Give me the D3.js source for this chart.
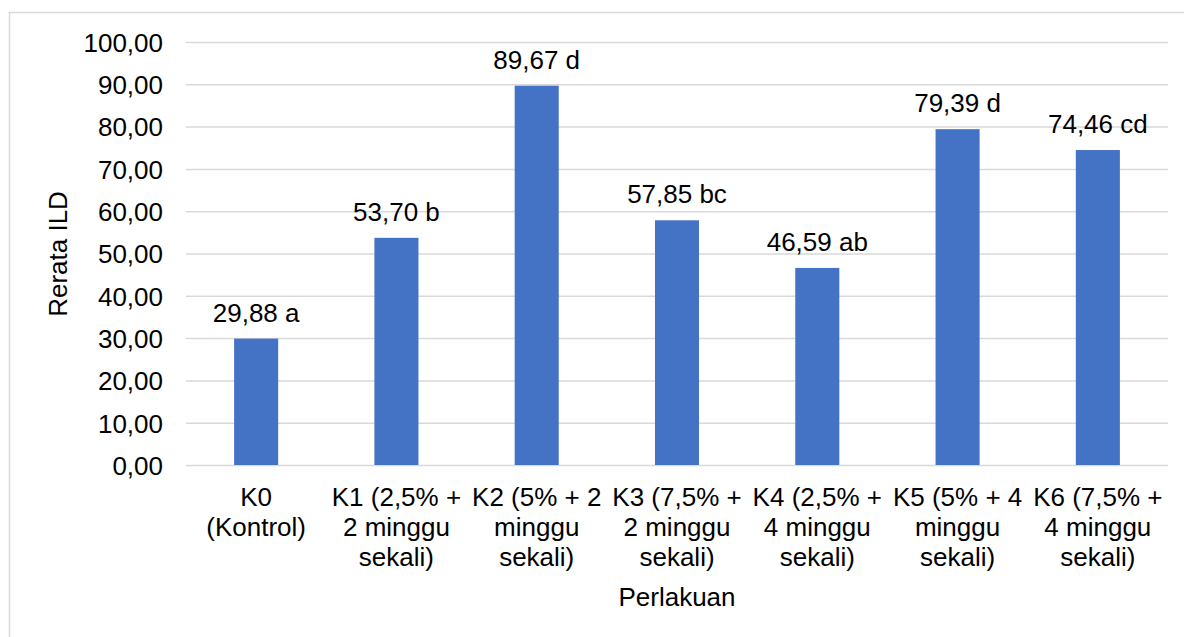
<!DOCTYPE html>
<html><head><meta charset="utf-8">
<script src="https://cdn.jsdelivr.net/npm/d3@7"></script>
<style>
html,body{margin:0;padding:0;background:#fff;}
svg{display:block;font-family:"Liberation Sans",Arial,sans-serif;}
</style></head>
<body>
<svg id="chart" width="1184" height="637"></svg>
<script>
const categories = ["K0 (Kontrol)","K1 (2,5% + 2 minggu sekali)","K2 (5% + 2 minggu sekali)","K3 (7,5% + 2 minggu sekali)","K4 (2,5% + 4 minggu sekali)","K5 (5% + 4 minggu sekali)","K6 (7,5% + 4 minggu sekali)"];
const values = [29.88, 53.70, 89.67, 57.85, 46.59, 79.39, 74.46];
const letters = ["a","b","d","bc","ab","d","cd"];
const yTicks = [0,10,20,30,40,50,60,70,80,90,100];
const xTitle = "Perlakuan";
const yTitle = "Rerata ILD";

(function(){
const svg = d3.select("#chart");
const FS = 26;
const pL = 186, pR = 1168, pT = 42, pB = 465;
const fmt = v => v.toFixed(2).replace(".", ",");

// frame
svg.append("rect").attr("x",9.5).attr("y",12.5).attr("width",1200).attr("height",700)
  .attr("fill","none").attr("stroke","#d9d9d9").attr("stroke-width",1.5);

const x = d3.scaleBand().domain(categories).range([pL,pR]).paddingInner(0.686).paddingOuter(0.343);
const y = d3.scaleLinear().domain([0,100]).range([pB,pT]);

// grid
const yAxis = d3.axisLeft(y).tickValues(yTicks).tickSize(-(pR-pL)).tickFormat(fmt).tickPadding(23);
const gy = svg.append("g").attr("transform",`translate(${pL},0)`).call(yAxis);
gy.select(".domain").remove();
gy.selectAll(".tick line").attr("stroke","#d9d9d9").attr("stroke-width",1.5);
gy.selectAll(".tick text").attr("font-size",FS).attr("fill","#000").attr("font-family","Liberation Sans, Arial, sans-serif").attr("dy","0.36em");

// bars
svg.append("g").selectAll("rect").data(values).join("rect")
  .attr("x",(d,i)=>x(categories[i])).attr("width",x.bandwidth())
  .attr("y",d=>y(d)).attr("height",d=>y(0)-y(d)).attr("fill","#4472C4");

// data labels
svg.append("g").selectAll("text").data(values).join("text")
  .attr("x",(d,i)=>x(categories[i])+x.bandwidth()/2).attr("y",d=>y(d)-17)
  .attr("text-anchor","middle").attr("font-size",FS).attr("fill","#000")
  .text((d,i)=>fmt(d)+" "+letters[i]);

// x axis labels with wrapping
const xAxis = d3.axisBottom(x).tickSize(0).tickPadding(0);
const gx = svg.append("g").attr("transform",`translate(0,${pB})`).call(xAxis);
gx.select(".domain").remove();
gx.selectAll(".tick text").attr("font-size",FS).attr("fill","#000").attr("font-family","Liberation Sans, Arial, sans-serif").attr("y",41).attr("dy",0)
  .each(function(d){
    const t = d3.select(this);
    const words = d.split(" ");
    t.text(null);
    let lines = [], line = [];
    const probe = t.append("tspan");
    words.forEach(w=>{
      const cand = line.concat([w]).join(" ");
      probe.text(cand);
      if (probe.node().getComputedTextLength() > 134 && line.length){ lines.push(line.join(" ")); line=[w]; }
      else line.push(w);
    });
    lines.push(line.join(" "));
    probe.remove();
    lines.forEach((l,i)=>t.append("tspan").attr("x",0).attr("y",41+i*30).text(l));
  });

// titles
svg.append("text").attr("x",(pL+pR)/2).attr("y",606).attr("text-anchor","middle").attr("font-size",FS).attr("fill","#000").text(xTitle);
svg.append("text").attr("transform",`translate(67,254) rotate(-90)`).attr("text-anchor","middle").attr("font-size",FS).attr("fill","#000").text(yTitle);
})();
</script>
</body></html>
